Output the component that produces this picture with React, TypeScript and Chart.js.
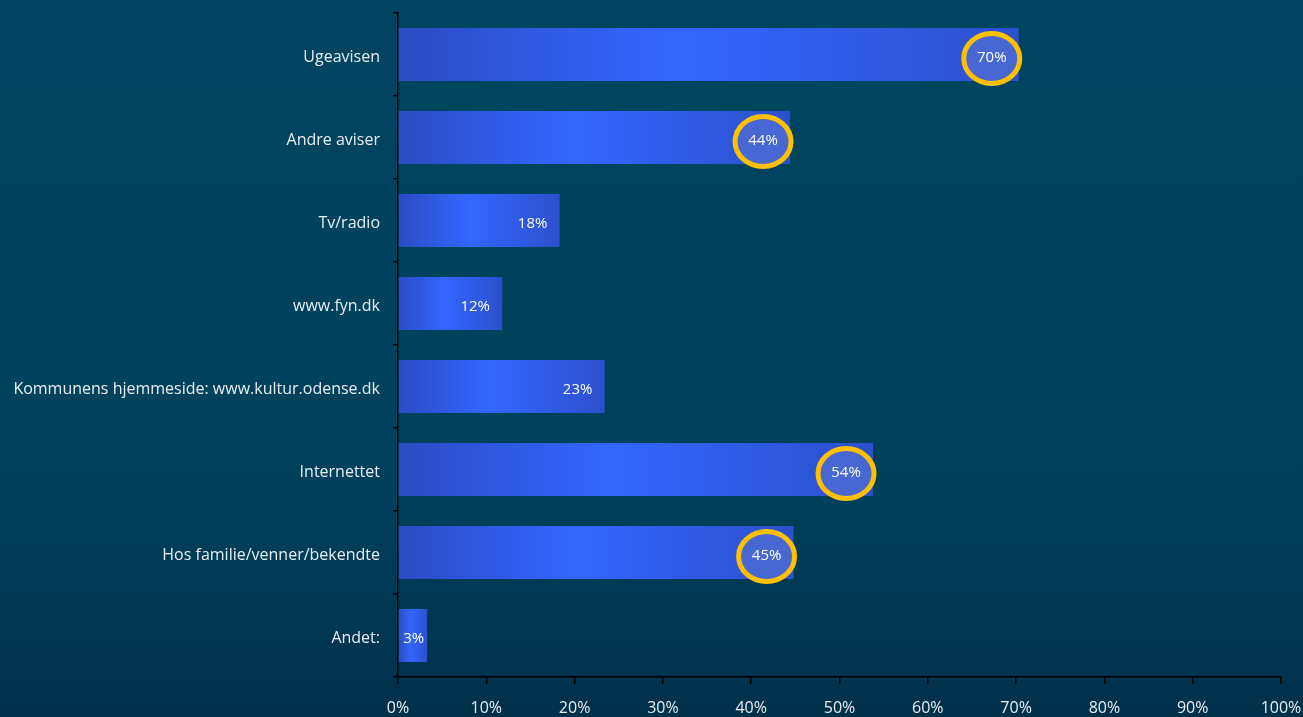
import React, { useEffect, useRef } from "react";
import { Chart, registerables } from "chart.js";

Chart.register(...registerables);

const categories = [
  "Ugeavisen",
  "Andre aviser",
  "Tv/radio",
  "www.fyn.dk",
  "Kommunens hjemmeside: www.kultur.odense.dk",
  "Internettet",
  "Hos familie/venner/bekendte",
  "Andet:",
];
const values = [70.3, 44.4, 18.3, 11.8, 23.4, 53.8, 44.8, 3.3];
const highlighted = [true, true, false, false, false, true, true, false];
const xTicks = [0, 10, 20, 30, 40, 50, 60, 70, 80, 90, 100];

const FONT = "'Open Sans', 'Noto Sans', sans-serif";

const bgPlugin = {
  id: "bg",
  beforeDraw(chart: any) {
    const { ctx, width, height } = chart;
    const g = ctx.createLinearGradient(0, 0, 0, height);
    g.addColorStop(0, "#004560");
    g.addColorStop(0.7, "#00405a");
    g.addColorStop(1, "#00304a");
    ctx.save();
    ctx.fillStyle = g;
    ctx.fillRect(0, 0, width, height);
    ctx.restore();
  },
};

const labelPlugin = {
  id: "valueLabels",
  afterDatasetsDraw(chart: any) {
    const { ctx } = chart;
    const meta = chart.getDatasetMeta(0);
    ctx.save();
    meta.data.forEach((bar: any, i: number) => {
      const cx = Math.max(bar.x - 27, bar.base + 15);
      const cy = bar.y + 3;
      if (highlighted[i]) {
        ctx.beginPath();
        ctx.ellipse(cx, cy + 1, 28, 25, 0, 0, Math.PI * 2);
        ctx.fillStyle = "rgba(75,105,210,0.9)";
        ctx.fill();
        ctx.lineWidth = 5;
        ctx.strokeStyle = "#ffc000";
        ctx.stroke();
      }
      ctx.fillStyle = "#ffffff";
      ctx.font = `15px ${FONT}`;
      ctx.textAlign = "center";
      ctx.textBaseline = "middle";
      ctx.fillText(Math.round(values[i]) + "%", cx, cy);
    });
    ctx.restore();
  },
};

export default function App() {
  const ref = useRef<HTMLCanvasElement>(null);
  useEffect(() => {
    document.body.style.margin = "0";
    const canvas = ref.current!;
    const chart = new Chart(canvas, {
      type: "bar",
      data: {
        labels: categories,
        datasets: [
          {
            data: values,
            backgroundColor: (c: any) => {
              const ch = c.chart;
              const xs = ch.scales && ch.scales.x;
              if (!ch.chartArea || !xs || c.dataIndex === undefined) return "#2f5ee8";
              const x0 = xs.getPixelForValue(0);
              const x1 = xs.getPixelForValue(values[c.dataIndex]);
              if (!isFinite(x0) || !isFinite(x1) || x1 - x0 < 1) return "#2f5ee8";
              const g = ch.ctx.createLinearGradient(x0, 0, x1, 0);
              g.addColorStop(0, "#2a4cc4");
              g.addColorStop(0.45, "#3366ff");
              g.addColorStop(1, "#2b50cc");
              return g;
            },
            borderWidth: 0,
            barPercentage: 0.64,
            categoryPercentage: 1,
          },
        ],
      },
      options: {
        indexAxis: "y",
        animation: false,
        responsive: false,
        maintainAspectRatio: false,
        layout: { padding: { top: 13, right: 22, bottom: 0, left: 0 } },
        plugins: { legend: { display: false }, tooltip: { enabled: false } },
        scales: {
          x: {
            min: 0,
            max: 100,
            afterBuildTicks(axis: any) {
              axis.ticks = xTicks.map((v) => ({ value: v }));
            },
            afterFit(axis: any) {
              axis.height = 40;
              axis.paddingRight = 0;
              axis.paddingLeft = 0;
            },
            grid: {
              display: true,
              drawOnChartArea: false,
              drawTicks: true,
              tickLength: 7,
              color: "#000000",
              lineWidth: 1.5,
            },
            border: { display: true, color: "#000000", width: 1.5 },
            ticks: {
              color: "#e8eef2",
              font: { family: FONT, size: 16 },
              padding: 15,
              maxRotation: 0,
              autoSkip: false,
              callback: (v: any) => v + "%",
            },
          },
          y: {
            afterFit(axis: any) {
              axis.width = 398;
              axis.paddingTop = 0;
              axis.paddingBottom = 0;
            },
            grid: {
              display: true,
              drawOnChartArea: false,
              drawTicks: true,
              tickLength: 5,
              offset: true,
              color: "#000000",
              lineWidth: 1.5,
            },
            border: { display: true, color: "#000000", width: 1.5 },
            ticks: {
              color: "#e8eef2",
              font: { family: FONT, size: 16 },
              padding: 13,
              labelOffset: 3,
              autoSkip: false,
            },
          },
        },
      },
      plugins: [bgPlugin, labelPlugin],
    } as any);
    return () => chart.destroy();
  }, []);
  return (
    <div style={{ position: "fixed", left: 0, top: 0, width: 1303, height: 717 }}>
      <canvas ref={ref} width={1303} height={717} style={{ display: "block" }} />
    </div>
  );
}
